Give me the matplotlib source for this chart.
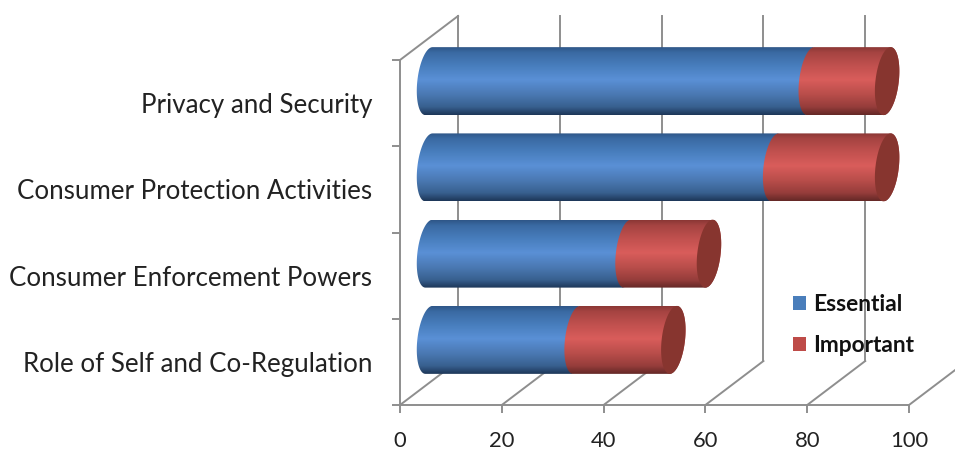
import numpy as np
import matplotlib
matplotlib.use('Agg')
from matplotlib import pyplot as plt
from matplotlib.colors import LinearSegmentedColormap
from matplotlib.patches import Patch, PathPatch
from matplotlib.path import Path

# data, bottom row first
categories = ['Role of Self and Co-Regulation', 'Consumer Enforcement Powers',
              'Consumer Protection Activities', 'Privacy and Security']
essential = [29, 39, 68, 75]
important = [19, 16, 22, 15]
x_ticks = [0, 20, 40, 60, 80, 100]

# fake 3d look: how far the back wall sits from the front, in data units
depth_x = 11.4
depth_y = 0.51
# cylinder shape
half_h = 0.394
cap_w = 2.3
cap_shear = 0.7

line_col = '#8e8e8e'
line_w = 1.4
font = 'Lato'

blue_cmap = LinearSegmentedColormap.from_list('b', [(0, '#2f5688'), (0.08, '#3a6aa3'), (0.3, '#4a80c0'),
                                                    (0.48, '#5a90d6'), (0.7, '#4a78b2'), (0.88, '#38608f'),
                                                    (1, '#1d3658')])
red_cmap = LinearSegmentedColormap.from_list('r', [(0, '#8a3735'), (0.08, '#a64442'), (0.3, '#c45250'),
                                                   (0.48, '#d95d5b'), (0.7, '#b84d4a'), (0.88, '#963d3b'),
                                                   (1, '#642826')])
cap_col = '#87352f'


def edge(v, cy, t):
    # points on the tilted ellipse at the end of a cylinder
    return v + cap_w * np.cos(t) + cap_shear * np.sin(t), cy + half_h * np.sin(t)


def segment_path(v0, v1, cy, hollow_end):
    # left side always bulges left, right side bulges right unless hollow_end
    t = np.linspace(-np.pi / 2, -3 * np.pi / 2, 60)
    xl, yl = edge(v0, cy, t)
    if hollow_end:
        t2 = np.linspace(np.pi / 2, 3 * np.pi / 2, 60)
    else:
        t2 = np.linspace(np.pi / 2, -np.pi / 2, 60)
    xr, yr = edge(v1, cy, t2)
    xs = np.concatenate([xl, xr])
    ys = np.concatenate([yl, yr])
    return Path(np.column_stack([xs, ys]))


def draw_segment(ax, v0, v1, cy, cmap, hollow_end=False):
    grad = np.linspace(0, 1, 256).reshape(-1, 1)
    im = ax.imshow(grad, cmap=cmap, aspect='auto', origin='upper', zorder=3,
                   extent=[v0 - 5, v1 + 5, cy - half_h, cy + half_h])
    im.set_clip_path(segment_path(v0, v1, cy, hollow_end), ax.transData)
    im.set_clip_box(fig.bbox)


fig = plt.figure(figsize=(9.55, 4.5), dpi=100, facecolor='white')
ax = fig.add_axes([400 / 955, 45 / 450, 509 / 955, 345 / 450])

# back wall and floor lines
for v in x_ticks:
    ax.plot([v, v + depth_x], [0, depth_y], color=line_col, lw=line_w, clip_on=False, zorder=1)
    if v < 100:
        ax.plot([v + depth_x, v + depth_x], [depth_y, 4 + depth_y], color=line_col, lw=line_w,
                clip_on=False, zorder=1)
ax.plot([0, depth_x], [4, 4 + depth_y], color=line_col, lw=line_w, clip_on=False, zorder=1)

# stacked cylinders at half depth
for i in range(len(categories)):
    cy = i + 0.5 + depth_y / 2
    start = depth_x / 2
    mid = start + essential[i]
    end = mid + important[i]
    draw_segment(ax, start, mid + 0.2, cy, blue_cmap, hollow_end=True)
    draw_segment(ax, mid, end, cy, red_cmap)
    t = np.linspace(0, 2 * np.pi, 80)
    xc, yc = edge(end, cy, t)
    cap = PathPatch(Path(np.column_stack([xc, yc])), facecolor=cap_col, edgecolor='none',
                    zorder=4, clip_on=False)
    ax.add_patch(cap)

ax.set_xlim(0, 100)
ax.set_ylim(0, 4)
ax.patch.set_alpha(0)

for s in ['top', 'right']:
    ax.spines[s].set_visible(False)
for s in ['left', 'bottom']:
    ax.spines[s].set_color(line_col)
    ax.spines[s].set_linewidth(line_w)

ax.set_xticks(x_ticks)
ax.set_xticklabels([str(v) for v in x_ticks], fontsize=15.8, family=font, color='#222222')
ax.tick_params(axis='x', length=5.5, width=line_w, color=line_col, pad=13)

# ticks sit between categories, labels in the middle
ax.set_yticks([0, 1, 2, 3, 4])
ax.set_yticklabels([])
ax.tick_params(axis='y', which='major', length=6, width=line_w, color=line_col)
ax.set_yticks([i + 0.5 for i in range(len(categories))], categories, minor=True,
              fontsize=18.6, family=font, color='#222222')
ax.tick_params(axis='y', which='minor', length=0, pad=20)

handles = [Patch(facecolor='#4a7ebb', label='Essential'), Patch(facecolor='#be4b48', label='Important')]
leg = ax.legend(handles=handles, loc='upper left', bbox_to_anchor=(0.773, 0.322), frameon=False,
                prop={'family': font, 'weight': 'bold', 'size': 16.4}, handlelength=0.57, handleheight=0.57,
                handletextpad=0.3, labelspacing=0.88, borderpad=0, borderaxespad=0)
for t in leg.get_texts():
    t.set_color('#111111')

plt.savefig('out.png', dpi=100)
